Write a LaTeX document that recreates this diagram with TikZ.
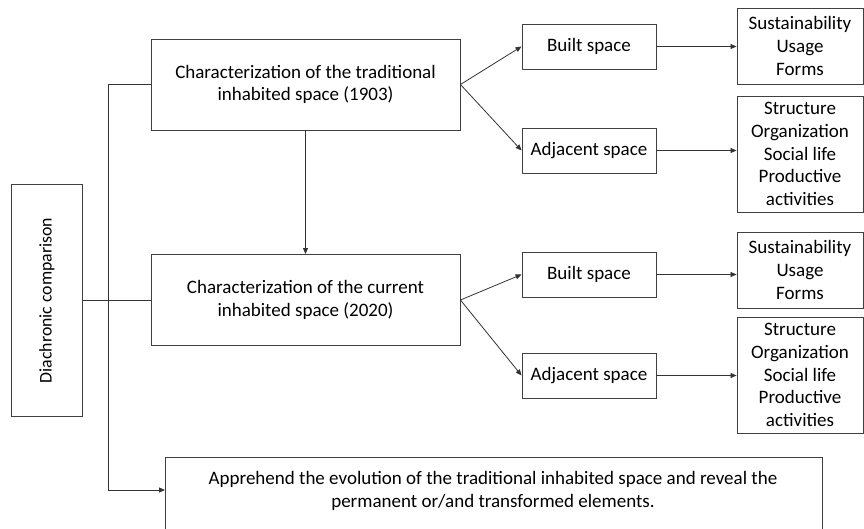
\documentclass[tikz,border=0pt]{standalone}
\usepackage{fontspec}
\setmainfont{Carlito}
\usetikzlibrary{arrows.meta}
\tikzset{
  txt/.style={font=\fontsize{19}{22.7}\selectfont},
  box/.style={draw=black!75, line width=0.9pt, align=center, inner sep=0pt, txt},
  conn/.style={draw=black!80, line width=0.8pt},
  arr/.style={conn, -{Triangle[length=6pt,width=5pt]}},
}
\begin{document}
\begin{tikzpicture}[x=1pt,y=-1pt]
\useasboundingbox (0,0) rectangle (864,529);
% left
\node[box, minimum width=71pt, minimum height=232pt] (dia) at (46.5,300) {};
\node[font=\fontsize{17.8}{20}\selectfont, rotate=90] (dialabel) at (47,300.5) {Diachronic comparison};
% characterization boxes
\node[box, minimum width=309pt, minimum height=91pt] (c1) at (305.5,84.5) {Characterization of the traditional\\inhabited space (1903)};
\node[box, minimum width=309pt, minimum height=91pt] (c2) at (305.5,300) {Characterization of the current\\inhabited space (2020)};
% built/adjacent
\node[box, minimum width=134pt, minimum height=45pt] (b1) at (589,46.5) {Built space};
\node[box, minimum width=134pt, minimum height=45pt] (a1) at (589,150.5) {Adjacent space};
\node[box, minimum width=134pt, minimum height=45pt] (b2) at (589,274.5) {Built space};
\node[box, minimum width=134pt, minimum height=45pt] (a2) at (589,375.5) {Adjacent space};
% right lists
\node[box, minimum width=126pt, minimum height=76pt] (s1) at (800,46) {Sustainability\\Usage\\Forms};
\node[box, minimum width=126pt, minimum height=116pt] (t1) at (800,154) {Structure\\Organization\\Social life\\Productive\\activities};
\node[box, minimum width=126pt, minimum height=76pt] (s2) at (800,270) {Sustainability\\Usage\\Forms};
\node[box, minimum width=126pt, minimum height=116pt] (t2) at (800,375) {Structure\\Organization\\Social life\\Productive\\activities};
% bottom box
\node[box, minimum width=657pt, minimum height=90pt, anchor=north west] (ev) at (165,457) {};
\node[txt, align=center] (evtext) at (493,491) {Apprehend the evolution of the traditional inhabited space and reveal the\\permanent or/and transformed elements.};
% connectors
\coordinate (v1) at (108,84.5);
\coordinate (v2) at (108,490);
\draw[conn] (c1.west) -- (v1) -- (108,300);
\draw[arr] (108,300) |- (ev.west |- v2);
\draw[conn] (dia.east) -- (c2.west);
\draw[arr] (c1.south) -- (c2.north);
\draw[arr] (c1.east) -- (b1.west);
\draw[arr] (c1.east) -- (a1.west);
\draw[arr] (c2.east) -- (b2.west);
\draw[arr] (c2.east) -- (a2.west);
\draw[arr] (b1.east) -- (s1.west |- b1.east);
\draw[arr] (a1.east) -- (t1.west |- a1.east);
\draw[arr] (b2.east) -- (s2.west |- b2.east);
\draw[arr] (a2.east) -- (t2.west |- a2.east);
\end{tikzpicture}
\end{document}
